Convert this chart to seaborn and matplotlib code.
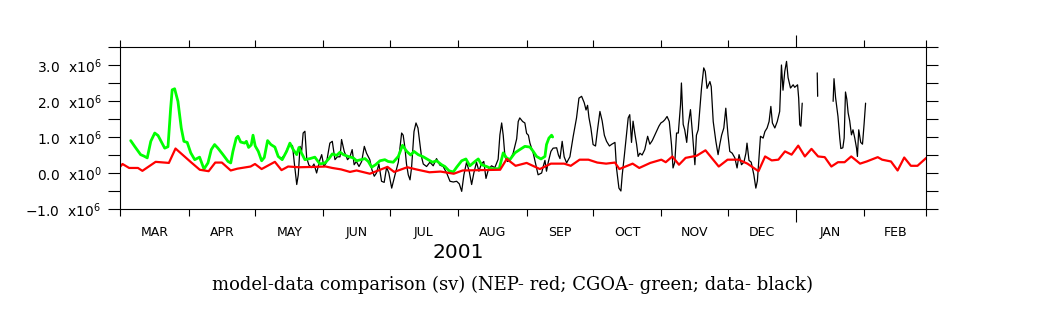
import numpy as np
import pandas as pd
import matplotlib
matplotlib.use("Agg")
import matplotlib.pyplot as plt
import matplotlib.dates as mdates
from matplotlib.transforms import blended_transform_factory
import seaborn as sns

# ---------------------------------------------------------------------------
# Transport time series (units of 10^6), time in days since 2001-03-01
# ---------------------------------------------------------------------------
START = "2001-03-01"
END = "2002-03-01"

nep_days = [0, 1, 4, 8, 10, 16, 22, 25, 32, 36, 40, 43, 46, 50, 53, 59, 61, 64,
            70, 73, 76, 81, 88, 93, 96, 100, 104, 107, 113, 116, 121, 124, 130,
            134, 140, 145, 151, 155, 163, 172, 175, 179, 184, 190, 195, 201, 204,
            208, 212, 216, 220, 224, 226, 232, 235, 240, 245, 247, 250, 253, 256,
            261, 265, 271, 275, 280, 284, 289, 292, 295, 298, 301, 304, 307, 310,
            313, 316, 319, 322, 325, 328, 331, 335, 338, 343, 345, 349, 352, 355,
            358, 361, 365]
nep_vals = [0.18, 0.25, 0.14, 0.14, 0.06, 0.31, 0.28, 0.68, 0.30, 0.09, 0.05,
            0.29, 0.29, 0.07, 0.12, 0.18, 0.25, 0.11, 0.31, 0.08, 0.18, 0.16,
            0.17, 0.18, 0.14, 0.10, 0.03, 0.07, -0.02, 0.05, 0.17, 0.03, 0.16,
            0.10, 0.02, 0.04, -0.02, 0.07, 0.08, 0.09, 0.39, 0.20, 0.28, 0.11,
            0.26, 0.26, 0.20, 0.37, 0.37, 0.29, 0.26, 0.29, 0.11, 0.26, 0.14,
            0.28, 0.37, 0.30, 0.46, 0.23, 0.42, 0.48, 0.63, 0.18, 0.37, 0.37,
            0.26, 0.05, 0.46, 0.35, 0.37, 0.60, 0.51, 0.76, 0.46, 0.67, 0.46,
            0.44, 0.18, 0.30, 0.30, 0.46, 0.26, 0.32, 0.44, 0.37, 0.32, 0.07,
            0.43, 0.20, 0.20, 0.42]

cgoa_days = [4.7, 6.5, 9.2, 10.7, 12.2, 13.8, 15.6, 17.1, 20.1, 21.6, 22.8, 23.5,
             24.6, 26.1, 27.6, 28.8, 30.3, 31.9, 33.7, 35.9, 37.9, 39.7, 41.2,
             42.7, 44.2, 46.5, 48.8, 50.0, 51.0, 52.5, 53.3, 54.5, 56.3, 57.1,
             58.1, 59.3, 60.1, 61.1, 62.5, 64.0, 65.2, 66.7, 68.2, 70.0, 71.5,
             73.3, 75.3, 76.8, 78.3, 79.9, 80.9, 82.1, 83.6, 85.9, 88.1, 90.4,
             92.7, 94.5, 96.0, 98.0, 99.5, 101.0, 103.2, 105.5, 107.0, 109.0,
             110.8, 112.3, 113.8, 115.6, 117.6, 119.8, 121.3, 123.6, 125.9,
             127.8, 129.7, 131.5, 133.0, 134.9, 137.2, 139.4, 141.4, 143.2,
             145.5, 147.0, 148.9, 150.8, 152.3, 154.6, 156.5, 158.3, 160.6,
             162.1, 163.6, 165.9, 168.1, 171.6, 173.4, 174.9, 176.4, 178.7,
             180.9, 183.2, 185.5, 187.0, 188.5, 190.5, 192.3, 193.0, 194.1,
             195.3, 195.8]
cgoa_vals = [0.90, 0.74, 0.51, 0.47, 0.42, 0.88, 1.11, 1.04, 0.69, 0.73, 1.80,
             2.31, 2.34, 1.99, 1.25, 0.88, 0.85, 0.56, 0.37, 0.44, 0.11, 0.28,
             0.65, 0.79, 0.69, 0.51, 0.32, 0.28, 0.60, 0.97, 1.02, 0.86, 0.83,
             0.88, 0.71, 0.78, 1.05, 0.75, 0.60, 0.34, 0.43, 0.90, 0.79, 0.72,
             0.46, 0.37, 0.60, 0.83, 0.65, 0.51, 0.71, 0.55, 0.37, 0.40, 0.44,
             0.25, 0.28, 0.40, 0.53, 0.49, 0.58, 0.51, 0.46, 0.42, 0.34, 0.37,
             0.40, 0.32, 0.16, 0.23, 0.34, 0.37, 0.32, 0.30, 0.46, 0.77, 0.60,
             0.50, 0.60, 0.51, 0.45, 0.37, 0.30, 0.34, 0.23, 0.18, 0.06, 0.03,
             0.16, 0.34, 0.39, 0.20, 0.32, 0.39, 0.23, 0.18, 0.12, 0.12, 0.56,
             0.42, 0.37, 0.56, 0.65, 0.74, 0.72, 0.60, 0.46, 0.39, 0.46, 0.79,
             0.97, 1.05, 1.00]

# observed transport; NaN marks missing records
obs_days = [73.1, 74.2, 75.8, 77.1, 78.0, 78.8, 79.9, 80.6, 81.4, 82.1, 82.8,
            83.6, 84.4, 85.4, 86.7, 87.7, 88.9, 90.4, 91.2, 92.2, 93.4, 94.9,
            96.0, 97.2, 98.3, 99.5, 100.2, 101.4, 102.9, 104.0, 105.0, 105.9,
            106.9, 108.1, 109.3, 110.5, 111.5, 113.0, 113.9, 115.0, 116.0,
            117.1, 118.3, 119.5, 120.6, 121.6, 122.9, 124.4, 125.9, 127.4,
            128.1, 128.9, 129.6, 130.4, 131.2, 131.9, 133.0, 133.9, 134.8,
            135.7, 136.4, 137.2, 138.7, 140.2, 141.7, 143.2, 144.7, 146.2,
            147.8, 149.3, 150.8, 152.3, 153.5, 154.6, 155.6, 156.8, 158.0,
            159.1, 160.1, 161.3, 162.4, 163.5, 164.6, 165.6, 166.7, 168.1,
            169.6, 171.1, 171.9, 172.7, 173.4, 174.2, 175.3, 176.4, 177.9,
            179.5, 180.2, 180.9, 182.2, 183.2, 184.0, 184.8, 185.5, 187.0,
            188.5, 189.2, 190.8, 191.6, 192.3, 193.0, 193.8, 195.0, 196.0,
            197.6, 198.4, 199.1, 200.1, 201.0, 202.1, 203.6, 205.1, 206.6,
            207.7, 208.9, 210.1, 210.9, 211.6, 212.2, 213.1, 214.1, 215.2,
            216.1, 217.2, 218.2, 219.2, 220.2, 221.5, 222.6, 224.0, 224.7,
            225.8, 226.7, 227.3, 228.2, 229.2, 230.0, 230.7, 231.5, 232.2,
            233.0, 233.8, 234.5, 235.3, 236.3, 237.5, 238.8, 239.8, 240.9,
            242.1, 242.8, 243.9, 244.8, 245.8, 246.6, 247.6, 248.6, 249.6,
            250.3, 251.1, 251.9, 252.7, 253.7, 254.1, 254.9, 255.6, 256.5,
            257.2, 258.2, 259.1, 260.2, 260.9, 261.7, 263.2, 264.2, 264.9,
            265.7, 267.0, 267.6, 268.5, 269.7, 270.7, 271.5, 272.3, 273.3,
            274.2, 275.2, 276.0, 277.1, 278.3, 279.3, 280.2, 281.3, 282.4,
            283.3, 283.8, 284.7, 285.7, 286.9, 287.8, 288.5, 289.3, 289.9,
            291.1, 291.9, 292.9, 293.8, 294.6, 295.3, 296.4, 297.5, 298.6,
            299.4, 300.1, 300.9, 301.7, 302.4, 303.5, 304.7, 305.4, 306.7,
            307.2, 307.7, 308.2, 308.8, 312.0, 315.6, 315.8, 319.0, 322.8,
            323.2, 323.9, 325.0, 325.8, 326.3, 327.2, 327.8, 328.4, 329.0,
            329.6, 330.3, 331.1, 331.8, 332.6, 333.4, 333.8, 334.4, 335.3,
            336.1, 336.8, 337.5]
obs_vals = [0.42, 0.48, 0.69, 0.80, 0.75, 0.28, -0.32, -0.05, 0.74, 0.60, 1.11,
            1.16, 0.42, 0.22, 0.15, 0.25, 0.00, 0.37, 0.51, 0.18, 0.30, 0.83,
            0.88, 0.37, 0.45, 0.45, 0.93, 0.60, 0.37, 0.45, 0.65, 0.23, 0.32,
            0.18, 0.32, 0.74, 0.55, 0.37, 0.10, -0.09, 0.00, 0.25, -0.23,
            -0.26, 0.16, 0.00, -0.42, -0.05, 0.30, 1.11, 1.05, 0.70, 0.25,
            -0.05, -0.19, 0.15, 1.15, 1.39, 1.25, 0.80, 0.45, 0.25, 0.18, 0.30,
            0.20, 0.40, 0.22, 0.18, 0.00, -0.23, -0.25, -0.23, -0.30, -0.51,
            -0.05, 0.30, 0.05, -0.32, 0.00, 0.30, 0.05, 0.25, 0.32, -0.15,
            0.10, 0.20, 0.15, 0.38, 1.06, 1.39, 1.05, 0.45, 0.32, 0.35, 0.55,
            0.95, 1.43, 1.53, 1.43, 1.39, 1.10, 1.05, 0.83, 0.55, 0.14, -0.05,
            0.00, 0.20, 0.35, 0.05, 0.30, 0.60, 0.69, 0.70, 0.50, 0.40, 0.88,
            0.45, 0.28, 0.45, 1.02, 1.53, 2.08, 2.13, 1.95, 1.75, 1.88, 1.55,
            1.25, 0.79, 0.75, 1.20, 1.71, 1.45, 1.05, 0.88, 0.75, 0.80, 0.85,
            0.14, -0.42, -0.50, -0.05, 0.45, 1.06, 1.53, 1.62, 0.85, 1.44,
            1.10, 0.80, 0.46, 0.55, 0.50, 0.65, 1.02, 0.80, 0.90, 1.06, 1.15,
            1.30, 1.39, 1.43, 1.48, 1.57, 1.43, 0.79, 0.14, 0.30, 1.11, 1.11,
            1.90, 2.50, 1.35, 1.20, 0.85, 1.35, 1.76, 1.10, 0.23, 1.05, 1.20,
            2.36, 2.92, 2.82, 2.35, 2.54, 2.40, 1.43, 0.88, 0.51, 0.80, 1.05,
            1.25, 1.80, 1.05, 0.60, 0.55, 0.42, 0.14, 0.51, 0.23, 0.30, 0.55,
            0.83, 0.35, 0.30, -0.05, -0.42, -0.22, 0.51, 1.02, 0.97, 1.15,
            1.25, 1.43, 1.85, 1.39, 1.25, 1.43, 1.71, 3.00, 2.30, 2.82, 3.10,
            2.65, 2.36, 2.45, 2.38, 2.45, 2.08, 1.34, 1.30, 1.94, np.nan, 2.78,
            2.13, np.nan, 1.99, 2.62, 2.10, 1.57, 0.97, 0.68, 0.70, 0.97, 2.25,
            2.05, 1.67, 1.45, 1.06, 1.20, 0.97, 0.69, 0.46, 1.20, 0.85, 0.80,
            1.34, 1.94]

month_labels = ["MAR", "APR", "MAY", "JUN", "JUL", "AUG", "SEP", "OCT", "NOV",
                "DEC", "JAN", "FEB"]
ytick_vals = [-1.0, 0.0, 1.0, 2.0, 3.0]
ytick_labels = [r"$\mathregular{-1.0\ \ x10^{6}}$", r"$\mathregular{0.0\ \ x10^{0}}$",
                r"$\mathregular{1.0\ \ x10^{6}}$", r"$\mathregular{2.0\ \ x10^{6}}$",
                r"$\mathregular{3.0\ \ x10^{6}}$"]
yminor_vals = [-0.5, 0.5, 1.5, 2.5, 3.5]
year_label = "2001"
caption = "model-data comparison (sv) (NEP- red; CGOA- green; data- black)"


def to_frame(days, vals):
    t0 = pd.Timestamp(START)
    df = pd.DataFrame({"date": t0 + pd.to_timedelta(np.asarray(days, float), unit="D"),
                       "value": np.asarray(vals, float)})
    df["segment"] = df["value"].isna().cumsum()
    return df.dropna().reset_index(drop=True)


nep = to_frame(nep_days, nep_vals)
cgoa = to_frame(cgoa_days, cgoa_vals)
obs = to_frame(obs_days, obs_vals)

sns.set_theme(style="white")
plt.rcParams["font.family"] = ["DejaVu Sans"]
plt.rcParams["mathtext.default"] = "regular"

fig = plt.figure(figsize=(10.38, 3.21), dpi=100)
ax = fig.add_axes([0.1159, 0.3489, 0.7765, 0.5047])

sns.lineplot(data=obs, x="date", y="value", units="segment", estimator=None,
             color="black", linewidth=0.9, ax=ax)
sns.lineplot(data=cgoa, x="date", y="value", units="segment", estimator=None,
             color="#00ff00", linewidth=2.0, ax=ax)
sns.lineplot(data=nep, x="date", y="value", units="segment", estimator=None,
             color="#ff0000", linewidth=1.6, ax=ax)

x0, x1 = pd.Timestamp(START), pd.Timestamp(END)
ax.set_xlim(x0, x1)
ax.set_ylim(-1.0, 3.5)
ax.set_xlabel("")
ax.set_ylabel("")

# month boundaries as ticks, month names centred between them
month_starts = pd.date_range(START, END, freq="MS")
start_nums = mdates.date2num(month_starts)
mid_nums = (start_nums[:-1] + start_nums[1:]) / 2
ax.xaxis.set_major_locator(matplotlib.ticker.FixedLocator(start_nums))
ax.xaxis.set_major_formatter(matplotlib.ticker.NullFormatter())
ax.xaxis.set_minor_locator(matplotlib.ticker.FixedLocator(mid_nums))
ax.xaxis.set_minor_formatter(matplotlib.ticker.FixedFormatter(month_labels))

ax.set_yticks(ytick_vals)
ax.set_yticklabels(ytick_labels)
ax.set_yticks(yminor_vals, minor=True)

for side in ["left", "right", "top", "bottom"]:
    ax.spines[side].set_visible(True)
    ax.spines[side].set_color("black")
    ax.spines[side].set_linewidth(0.8)

ax.tick_params(axis="x", which="major", direction="out", length=5, width=0.8,
               top=True, bottom=True, color="black")
ax.tick_params(axis="x", which="minor", length=0, pad=12, labelsize=9,
               labelcolor="black", top=False, bottom=True)
ax.tick_params(axis="y", which="both", direction="out", length=8.6, width=0.8,
               left=True, right=True, color="black")
ax.tick_params(axis="y", which="major", pad=5, labelsize=10, labelcolor="black")

# year label centred under the part of the axis that belongs to 2001
year_mid = (mdates.date2num(x0) + mdates.date2num(pd.Timestamp("2002-01-01"))) / 2
ax.text(year_mid, -0.27, year_label, fontsize=14.5, color="black",
        ha="center", va="center",
        transform=blended_transform_factory(ax.transData, ax.transAxes))
ax.text(0.487, -0.47, caption, fontsize=13, family="DejaVu Serif",
        color="black", ha="center", va="center", transform=ax.transAxes)

# longer tick at the year boundary
for tick, when in zip(ax.xaxis.get_major_ticks(), month_starts):
    if when.month == 1:
        tick.tick1line.set_markersize(9)
        tick.tick2line.set_markersize(9)

fig.savefig("out.png", dpi=100)
